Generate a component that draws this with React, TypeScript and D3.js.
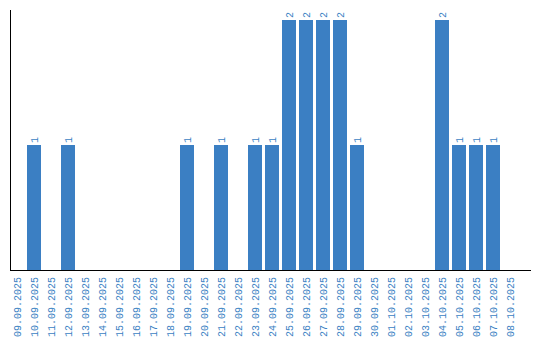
import React from "react";
import * as d3 from "d3";

const dates = [
  "09.09.2025", "10.09.2025", "11.09.2025", "12.09.2025", "13.09.2025",
  "14.09.2025", "15.09.2025", "16.09.2025", "17.09.2025", "18.09.2025",
  "19.09.2025", "20.09.2025", "21.09.2025", "22.09.2025", "23.09.2025",
  "24.09.2025", "25.09.2025", "26.09.2025", "27.09.2025", "28.09.2025",
  "29.09.2025", "30.09.2025", "01.10.2025", "02.10.2025", "03.10.2025",
  "04.10.2025", "05.10.2025", "06.10.2025", "07.10.2025", "08.10.2025",
];
const counts = [
  0, 1, 0, 1, 0,
  0, 0, 0, 0, 0,
  1, 0, 1, 0, 1,
  1, 2, 2, 2, 2,
  1, 0, 0, 0, 0,
  2, 1, 1, 1, 0,
];

const W = 540;
const H = 340;
const left = 10.5;
const top = 10;
const bottom = 270;
const axisRight = 531;
const color = "#3b7fc3";
const font = "'Liberation Mono', 'DejaVu Sans Mono', monospace";

export default function App() {
  const x = d3
    .scaleBand<string>()
    .domain(dates)
    .range([10, 10 + 17 * 30 - 3])
    .paddingInner(3 / 17)
    .paddingOuter(0);
  const y = d3.scaleLinear().domain([0, 2]).range([bottom, 20]);

  return (
    <svg
      width={W}
      height={H}
      style={{ position: "absolute", left: 0, top: 0, background: "#fff" }}
    >
      {dates.map((d, i) => {
        const v = counts[i];
        const bx = x(d)!;
        const cx = bx + x.bandwidth() / 2;
        return (
          <g key={d}>
            {v > 0 && (
              <rect
                x={bx}
                y={y(v)}
                width={x.bandwidth()}
                height={bottom - y(v)}
                fill={color}
              />
            )}
            {v > 0 && (
              <text
                transform={`translate(${cx},${y(v) - 2}) rotate(-90)`}
                textAnchor="start"
                dy="0.35em"
                fontFamily={font}
                fontSize={10}
                fill={color}
              >
                {v}
              </text>
            )}
            <text
              transform={`translate(${cx},${bottom + 7}) rotate(-90)`}
              textAnchor="end"
              dy="0.35em"
              fontFamily={font}
              fontSize={10}
              fill={color}
            >
              {d}
            </text>
          </g>
        );
      })}
      <line x1={left} x2={left} y1={top} y2={bottom} stroke="#000" strokeWidth={1} />
      <line x1={left - 0.5} x2={axisRight} y1={bottom + 0.5} y2={bottom + 0.5} stroke="#000" strokeWidth={1} />
    </svg>
  );
}
